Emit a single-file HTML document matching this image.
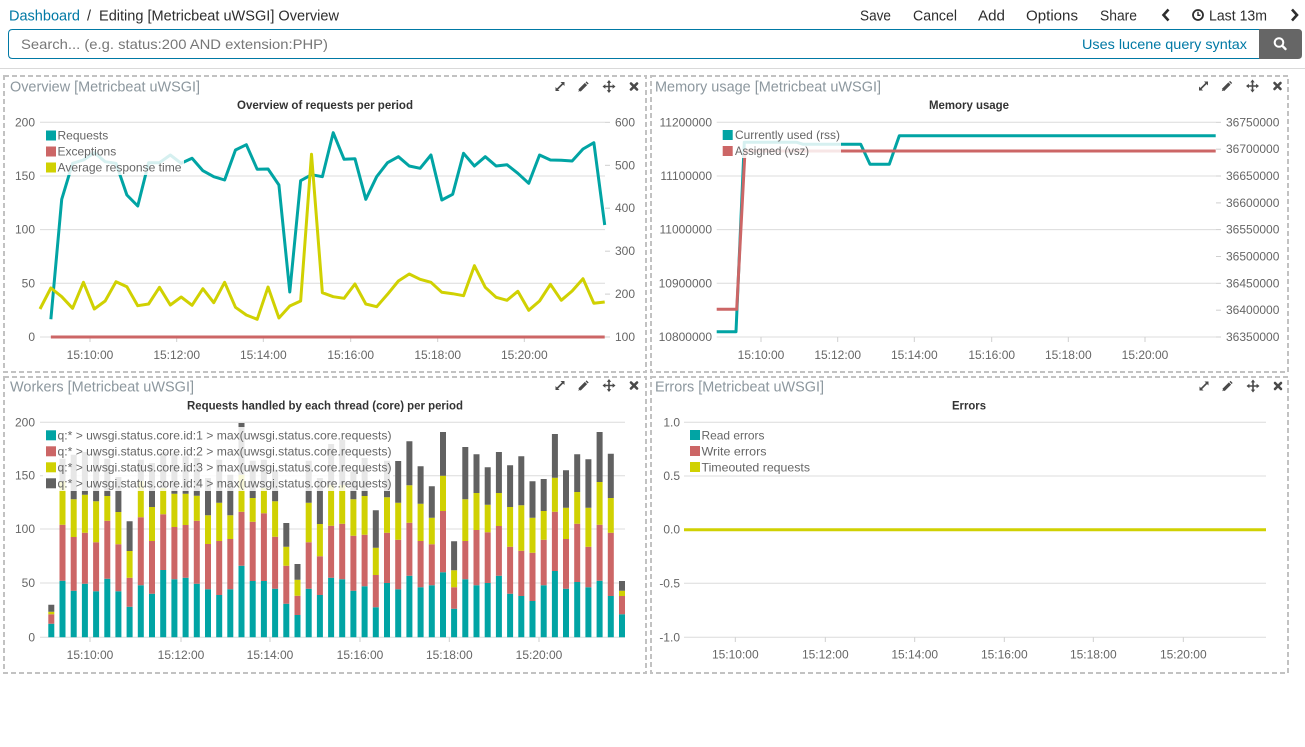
<!DOCTYPE html>
<html><head><meta charset="utf-8"><style>
html,body{margin:0;padding:0;background:#fff;}
svg{display:block;font-family:"Liberation Sans",Arial,sans-serif;}
.tk{font-size:12px;fill:#666;}
.lg{font-size:12px;fill:#666;}
.pt{font-size:14.5px;fill:#8c979e;}
.ct{font-size:12px;font-weight:bold;fill:#333;}
.nav{font-size:14.5px;fill:#2d2d2d;}
.grid line{stroke:#dcdcdc;stroke-width:1;}
.tick line{stroke:#cfcfcf;stroke-width:1;}
.ic{fill:none;stroke:#4a4a4a;stroke-linecap:round;}
</style></head><body>
<svg width="1305" height="747" viewBox="0 0 1305 747" xmlns="http://www.w3.org/2000/svg">
<defs>
<g id="icons">
  <!-- expand -->
  <path d="M-3.5 3.5 L3.5 -3.5" stroke="#4a4a4a" stroke-width="1.6"/>
  <path d="M0.5 -4.5 L4.5 -4.5 L4.5 -0.5 Z" fill="#4a4a4a"/>
  <path d="M-0.5 4.5 L-4.5 4.5 L-4.5 0.5 Z" fill="#4a4a4a"/>
  <!-- pencil -->
  <path d="M19.5 4 L26 -2.5" stroke="#4a4a4a" stroke-width="3.2"/>
  <path d="M18.2 5.3 L19.8 1.7 L21.8 3.7 Z" fill="#4a4a4a"/>
  <path d="M26.6 -3.1 L27.6 -4.1" stroke="#4a4a4a" stroke-width="3"/>
  <!-- move -->
  <path d="M43.5 0 H54.5 M49 -5.5 V5.5" stroke="#4a4a4a" stroke-width="1.6"/>
  <path d="M49 -6.5 L46.8 -3.6 H51.2 Z M49 6.5 L46.8 3.6 H51.2 Z M42.5 0 L45.4 -2.2 V2.2 Z M55.5 0 L52.6 -2.2 V2.2 Z" fill="#4a4a4a"/>
  <!-- close -->
  <path d="M71 -3 L77 3 M77 -3 L71 3" stroke="#4a4a4a" stroke-width="2.6" stroke-linecap="round"/>
</g>
</defs>

<!-- ===== top bar ===== -->
<text x="9" y="20.5" font-size="14.5" fill="#0079a5" textLength="71" lengthAdjust="spacingAndGlyphs">Dashboard</text>
<text x="87" y="20.5" font-size="14.5" fill="#2d2d2d">/</text>
<text x="99" y="20.5" font-size="14.5" fill="#2d2d2d" textLength="240" lengthAdjust="spacingAndGlyphs">Editing [Metricbeat uWSGI] Overview</text>
<text class="nav" x="860" y="20.5" textLength="31" lengthAdjust="spacingAndGlyphs">Save</text>
<text class="nav" x="913" y="20.5" textLength="44" lengthAdjust="spacingAndGlyphs">Cancel</text>
<text class="nav" x="978" y="20.5" textLength="27" lengthAdjust="spacingAndGlyphs">Add</text>
<text class="nav" x="1026" y="20.5" textLength="52" lengthAdjust="spacingAndGlyphs">Options</text>
<text class="nav" x="1100" y="20.5" textLength="37" lengthAdjust="spacingAndGlyphs">Share</text>
<path d="M1168.5 9.5 L1163.5 15 L1168.5 20.5" fill="none" stroke="#2d2d2d" stroke-width="2.6"/>
<circle cx="1198" cy="15" r="5" fill="none" stroke="#2d2d2d" stroke-width="1.8"/>
<path d="M1198 11.8 V15.3 H1200.5" fill="none" stroke="#2d2d2d" stroke-width="1.4"/>
<text class="nav" x="1209" y="20.5" textLength="58" lengthAdjust="spacingAndGlyphs">Last 13m</text>
<path d="M1292 9.5 L1297 15 L1292 20.5" fill="none" stroke="#2d2d2d" stroke-width="2.6"/>

<!-- search bar -->
<path d="M1259 29.5 H12.5 Q8.5 29.5 8.5 33.5 V54.5 Q8.5 58.5 12.5 58.5 H1259" fill="#fff" stroke="#0079a5" stroke-width="1"/>
<path d="M1259 29 H1298 Q1302 29 1302 33 V55 Q1302 59 1298 59 H1259 Z" fill="#666"/>
<circle cx="1279" cy="42.5" r="4.3" fill="none" stroke="#fff" stroke-width="2"/>
<path d="M1282.2 45.7 L1285.5 49" stroke="#fff" stroke-width="2.4" stroke-linecap="round"/>
<text x="21" y="49" font-size="14" fill="#777" textLength="307" lengthAdjust="spacingAndGlyphs">Search... (e.g. status:200 AND extension:PHP)</text>
<text x="1082" y="49" font-size="14" fill="#0079a5" textLength="165" lengthAdjust="spacingAndGlyphs">Uses lucene query syntax</text>
<line x1="0" y1="68.5" x2="1305" y2="68.5" stroke="#d9d9d9" stroke-width="1"/>

<!-- ===== panel borders ===== -->
<g fill="none" stroke="#c2c2c2" stroke-width="2" stroke-dasharray="5 3">
<rect x="4" y="76" width="642" height="296"/>
<rect x="651" y="76" width="637" height="296"/>
<rect x="4" y="377" width="642" height="296"/>
<rect x="651" y="377" width="637" height="296"/>
</g>

<!-- panel titles -->
<text class="pt" x="10" y="91.5" textLength="190" lengthAdjust="spacingAndGlyphs">Overview [Metricbeat uWSGI]</text>
<text class="pt" x="655" y="91.5" textLength="226" lengthAdjust="spacingAndGlyphs">Memory usage [Metricbeat uWSGI]</text>
<text class="pt" x="10" y="391.5" textLength="184" lengthAdjust="spacingAndGlyphs">Workers [Metricbeat uWSGI]</text>
<text class="pt" x="655" y="391.5" textLength="169" lengthAdjust="spacingAndGlyphs">Errors [Metricbeat uWSGI]</text>

<use href="#icons" x="560" y="86.5"/>
<use href="#icons" x="1203.5" y="86"/>
<use href="#icons" x="560" y="385.5"/>
<use href="#icons" x="1204" y="386"/>

<!-- chart titles -->
<text class="ct" x="237" y="109" textLength="176" lengthAdjust="spacingAndGlyphs">Overview of requests per period</text>
<text class="ct" x="929" y="109" textLength="80" lengthAdjust="spacingAndGlyphs">Memory usage</text>
<text class="ct" x="187" y="409.5" textLength="276" lengthAdjust="spacingAndGlyphs">Requests handled by each thread (core) per period</text>
<text class="ct" x="952" y="409.5" textLength="34" lengthAdjust="spacingAndGlyphs">Errors</text>

<!-- ===== Overview chart ===== -->
<g class="grid">
<line x1="40" y1="122.3" x2="605" y2="122.3"/>
<line x1="40" y1="176" x2="605" y2="176"/>
<line x1="40" y1="229.6" x2="605" y2="229.6"/>
<line x1="40" y1="283.3" x2="605" y2="283.3"/>
<line x1="40" y1="337" x2="605" y2="337"/>
</g>
<g class="tick">
<line x1="605" y1="122.3" x2="610" y2="122.3"/>
<line x1="605" y1="165.3" x2="610" y2="165.3"/>
<line x1="605" y1="208.2" x2="610" y2="208.2"/>
<line x1="605" y1="251.2" x2="610" y2="251.2"/>
<line x1="605" y1="294.1" x2="610" y2="294.1"/>
<line x1="605" y1="337" x2="610" y2="337"/>
<line x1="90" y1="337" x2="90" y2="342"/>
<line x1="176.7" y1="337" x2="176.7" y2="342"/>
<line x1="263.3" y1="337" x2="263.3" y2="342"/>
<line x1="350.7" y1="337" x2="350.7" y2="342"/>
<line x1="437.7" y1="337" x2="437.7" y2="342"/>
<line x1="524.3" y1="337" x2="524.3" y2="342"/>
</g>
<g class="tk" text-anchor="end">
<text x="35" y="126.3">200</text>
<text x="35" y="180">150</text>
<text x="35" y="233.6">100</text>
<text x="35" y="287.3">50</text>
<text x="35" y="341">0</text>
</g>
<g class="tk">
<text x="615" y="126.3">600</text>
<text x="615" y="169.3">500</text>
<text x="615" y="212.2">400</text>
<text x="615" y="255.2">300</text>
<text x="615" y="298.1">200</text>
<text x="615" y="341">100</text>
</g>
<g class="tk" text-anchor="middle">
<text x="90" y="359">15:10:00</text>
<text x="176.7" y="359">15:12:00</text>
<text x="263.3" y="359">15:14:00</text>
<text x="350.7" y="359">15:16:00</text>
<text x="437.7" y="359">15:18:00</text>
<text x="524.3" y="359">15:20:00</text>
</g>
<g fill="none" stroke-width="3" stroke-linejoin="round" stroke-linecap="butt">
<polyline stroke="#01A4A4" points="50.86,319.3 61.72,199.3 72.58,163.3 83.44,160 94.3,152.7 105.16,161.7 116.02,163.3 126.88,195 137.74,206 148.6,162.7 159.46,162.7 170.32,155 181.18,163.3 192.04,158.3 202.9,170.7 213.76,176.7 224.62,180 235.48,150 246.34,144.7 257.2,169.3 268.06,169 278.92,185 289.78,292 300.64,180.7 311.5,174.7 322.36,176.7 333.22,132.7 344.08,159.3 354.94,158.7 365.8,199.3 376.66,176.7 387.52,162.7 398.38,156.7 409.24,166 420.1,168.3 430.96,155 441.82,200 452.68,194.3 463.54,153.3 474.4,166 485.26,156.7 496.12,166 506.98,164.7 517.84,173.3 528.7,183.3 539.56,155 550.42,160 561.28,160.3 572.14,161 583,149 593.86,142.7 604.72,225"/>
<line stroke="#CC6666" x1="50.86" y1="337" x2="604.72" y2="337"/>
<polyline stroke="#D0D102" points="40,309 50.86,288 61.72,296.7 72.58,308.3 83.44,282.3 94.3,309 105.16,301 116.02,281.7 126.88,286.7 137.74,305.7 148.6,304 159.46,287.3 170.32,305 181.18,297 192.04,305.3 202.9,288.7 213.76,302.7 224.62,282.3 235.48,307.3 246.34,315 257.2,319.3 268.06,287 278.92,318 289.78,306 300.64,301 311.5,154.3 322.36,292.7 333.22,296.7 344.08,298.3 354.94,284 365.8,304 376.66,306.7 387.52,294.3 398.38,281 409.24,274 420.1,279.3 430.96,282.3 441.82,292.3 452.68,293.7 463.54,295.7 474.4,265.7 485.26,287.3 496.12,297.3 506.98,300.3 517.84,291.3 528.7,310.3 539.56,301 550.42,284.3 561.28,300.3 572.14,291 583,278.7 593.86,303.3 604.72,302"/>
</g>
<rect x="43" y="127" width="141" height="48" fill="#fff" fill-opacity="0.84"/>
<rect x="46" y="130.5" width="10" height="10" fill="#01A4A4"/>
<rect x="46" y="146.5" width="10" height="10" fill="#CC6666"/>
<rect x="46" y="162.5" width="10" height="10" fill="#D0D102"/>
<g class="lg">
<text x="57.5" y="139.5">Requests</text>
<text x="57.5" y="155.5">Exceptions</text>
<text x="57.5" y="171.5" textLength="124" lengthAdjust="spacingAndGlyphs">Average response time</text>
</g>

<!-- ===== Memory chart ===== -->
<g class="grid">
<line x1="716.7" y1="122.3" x2="1216" y2="122.3"/>
<line x1="716.7" y1="176" x2="1216" y2="176"/>
<line x1="716.7" y1="229.6" x2="1216" y2="229.6"/>
<line x1="716.7" y1="283.3" x2="1216" y2="283.3"/>
<line x1="716.7" y1="337" x2="1216" y2="337"/>
</g>
<g class="tick">
<line x1="1216" y1="122.3" x2="1221" y2="122.3"/>
<line x1="1216" y1="149.2" x2="1221" y2="149.2"/>
<line x1="1216" y1="176" x2="1221" y2="176"/>
<line x1="1216" y1="202.9" x2="1221" y2="202.9"/>
<line x1="1216" y1="229.6" x2="1221" y2="229.6"/>
<line x1="1216" y1="256.5" x2="1221" y2="256.5"/>
<line x1="1216" y1="283.3" x2="1221" y2="283.3"/>
<line x1="1216" y1="310.2" x2="1221" y2="310.2"/>
<line x1="1216" y1="337" x2="1221" y2="337"/>
<line x1="761" y1="337" x2="761" y2="342"/>
<line x1="837.7" y1="337" x2="837.7" y2="342"/>
<line x1="914.3" y1="337" x2="914.3" y2="342"/>
<line x1="991.7" y1="337" x2="991.7" y2="342"/>
<line x1="1068.3" y1="337" x2="1068.3" y2="342"/>
<line x1="1145" y1="337" x2="1145" y2="342"/>
</g>
<g class="tk" text-anchor="end">
<text x="712" y="126.3">11200000</text>
<text x="712" y="180">11100000</text>
<text x="712" y="233.6">11000000</text>
<text x="712" y="287.3">10900000</text>
<text x="712" y="341">10800000</text>
</g>
<g class="tk">
<text x="1226" y="126.3">36750000</text>
<text x="1226" y="153.2">36700000</text>
<text x="1226" y="180">36650000</text>
<text x="1226" y="206.9">36600000</text>
<text x="1226" y="233.6">36550000</text>
<text x="1226" y="260.5">36500000</text>
<text x="1226" y="287.3">36450000</text>
<text x="1226" y="314.2">36400000</text>
<text x="1226" y="341">36350000</text>
</g>
<g class="tk" text-anchor="middle">
<text x="761" y="359">15:10:00</text>
<text x="837.7" y="359">15:12:00</text>
<text x="914.3" y="359">15:14:00</text>
<text x="991.7" y="359">15:16:00</text>
<text x="1068.3" y="359">15:18:00</text>
<text x="1145" y="359">15:20:00</text>
</g>
<g fill="none" stroke-width="3" stroke-linejoin="round">
<polyline stroke="#01A4A4" points="716.7,331.7 736,331.7 744.3,142.3 796.7,142.3 803.3,144.3 860.7,144.3 870,164.3 889.3,164.3 899.3,135.7 1215.7,135.7"/>
<polyline stroke="#CC6666" points="716.7,309.3 736.7,309.3 745,151 1215.7,151"/>
</g>
<rect x="719" y="127" width="122" height="31" fill="#fff" fill-opacity="0.84"/>
<rect x="722.7" y="130" width="10" height="10" fill="#01A4A4"/>
<rect x="722.7" y="146" width="10" height="10" fill="#CC6666"/>
<g class="lg">
<text x="735" y="139" textLength="105" lengthAdjust="spacingAndGlyphs">Currently used (rss)</text>
<text x="735" y="155" textLength="74" lengthAdjust="spacingAndGlyphs">Assigned (vsz)</text>
</g>

<!-- ===== Workers chart ===== -->
<g class="grid">
<line x1="40" y1="422.3" x2="625" y2="422.3"/>
<line x1="40" y1="475.7" x2="625" y2="475.7"/>
<line x1="40" y1="529" x2="625" y2="529"/>
<line x1="40" y1="583" x2="625" y2="583"/>
<line x1="40" y1="637.3" x2="625" y2="637.3"/>
</g>
<g class="tick">
<line x1="90" y1="637.3" x2="90" y2="642"/>
<line x1="181" y1="637.3" x2="181" y2="642"/>
<line x1="270" y1="637.3" x2="270" y2="642"/>
<line x1="360" y1="637.3" x2="360" y2="642"/>
<line x1="449.3" y1="637.3" x2="449.3" y2="642"/>
<line x1="539" y1="637.3" x2="539" y2="642"/>
</g>
<g class="tk" text-anchor="end">
<text x="35" y="426.3">200</text>
<text x="35" y="479.7">150</text>
<text x="35" y="533">100</text>
<text x="35" y="587">50</text>
<text x="35" y="641.3">0</text>
</g>
<g class="tk" text-anchor="middle">
<text x="90" y="659">15:10:00</text>
<text x="181" y="659">15:12:00</text>
<text x="270" y="659">15:14:00</text>
<text x="360" y="659">15:16:00</text>
<text x="449.3" y="659">15:18:00</text>
<text x="539" y="659">15:20:00</text>
</g>
<path fill="#01A4A4" d="M48.3 623.7h6V637.3h-6zM59.5 580.7h6V637.3h-6zM70.7 590.7h6V637.3h-6zM81.9 583.7h6V637.3h-6zM93.1 591.3h6V637.3h-6zM104.3 578.7h6V637.3h-6zM115.4 591.3h6V637.3h-6zM126.6 606.7h6V637.3h-6zM137.8 585.3h6V637.3h-6zM149 593.7h6V637.3h-6zM160.2 570h6V637.3h-6zM171.4 579.3h6V637.3h-6zM182.6 577.7h6V637.3h-6zM193.8 583.7h6V637.3h-6zM205 589.3h6V637.3h-6zM216.2 595h6V637.3h-6zM227.3 589.3h6V637.3h-6zM238.5 565.7h6V637.3h-6zM249.7 581h6V637.3h-6zM260.9 581h6V637.3h-6zM272.1 588.7h6V637.3h-6zM283.3 603.7h6V637.3h-6zM294.5 615h6V637.3h-6zM305.7 588.7h6V637.3h-6zM316.9 595h6V637.3h-6zM328.1 577.7h6V637.3h-6zM339.2 579.3h6V637.3h-6zM350.4 590.7h6V637.3h-6zM361.6 586.3h6V637.3h-6zM372.8 607.3h6V637.3h-6zM384 583h6V637.3h-6zM395.2 589.3h6V637.3h-6zM406.4 575.7h6V637.3h-6zM417.6 587.3h6V637.3h-6zM428.8 585.3h6V637.3h-6zM440 572.3h6V637.3h-6zM451.1 608.7h6V637.3h-6zM462.3 579.3h6V637.3h-6zM473.5 585.3h6V637.3h-6zM484.7 583h6V637.3h-6zM495.9 575.7h6V637.3h-6zM507.1 593.7h6V637.3h-6zM518.3 596h6V637.3h-6zM529.5 601h6V637.3h-6zM540.7 585.3h6V637.3h-6zM551.9 571h6V637.3h-6zM563 588.7h6V637.3h-6zM574.2 582h6V637.3h-6zM585.4 587.3h6V637.3h-6zM596.6 580.7h6V637.3h-6zM607.8 596h6V637.3h-6zM619 614.3h6V637.3h-6z"/>
<path fill="#CC6666" d="M48.3 614.3h6V623.7h-6zM59.5 524.7h6V580.7h-6zM70.7 537h6V590.7h-6zM81.9 532.7h6V583.7h-6zM93.1 542.3h6V591.3h-6zM104.3 520.7h6V578.7h-6zM115.4 544.3h6V591.3h-6zM126.6 577.7h6V606.7h-6zM137.8 517.3h6V585.3h-6zM149 541h6V593.7h-6zM160.2 514.3h6V570h-6zM171.4 527h6V579.3h-6zM182.6 525h6V577.7h-6zM193.8 520.7h6V583.7h-6zM205 544h6V589.3h-6zM216.2 541h6V595h-6zM227.3 539h6V589.3h-6zM238.5 511.7h6V565.7h-6zM249.7 521.7h6V581h-6zM260.9 513.3h6V581h-6zM272.1 536.7h6V588.7h-6zM283.3 565.7h6V603.7h-6zM294.5 595.7h6V615h-6zM305.7 542.3h6V588.7h-6zM316.9 556.3h6V595h-6zM328.1 525.7h6V577.7h-6zM339.2 523.7h6V579.3h-6zM350.4 535.7h6V590.7h-6zM361.6 534.7h6V586.3h-6zM372.8 575h6V607.3h-6zM384 532.7h6V583h-6zM395.2 539.7h6V589.3h-6zM406.4 522.7h6V575.7h-6zM417.6 541h6V587.3h-6zM428.8 544.3h6V585.3h-6zM440 511h6V572.3h-6zM451.1 587.3h6V608.7h-6zM462.3 541h6V579.3h-6zM473.5 530h6V585.3h-6zM484.7 532.3h6V583h-6zM495.9 526h6V575.7h-6zM507.1 546.7h6V593.7h-6zM518.3 550.7h6V596h-6zM529.5 552.7h6V601h-6zM540.7 539.7h6V585.3h-6zM551.9 511.7h6V571h-6zM563 539h6V588.7h-6zM574.2 523.7h6V582h-6zM585.4 546.7h6V587.3h-6zM596.6 524.7h6V580.7h-6zM607.8 532.7h6V596h-6zM619 596h6V614.3h-6z"/>
<path fill="#D0D102" d="M48.3 611.7h6V614.3h-6zM59.5 481.3h6V524.7h-6zM70.7 499.3h6V537h-6zM81.9 494.7h6V532.7h-6zM93.1 501.3h6V542.3h-6zM104.3 496h6V520.7h-6zM115.4 512h6V544.3h-6zM126.6 551h6V577.7h-6zM137.8 481.3h6V517.3h-6zM149 507h6V541h-6zM160.2 488h6V514.3h-6zM171.4 493.7h6V527h-6zM182.6 493.7h6V525h-6zM193.8 495.7h6V520.7h-6zM205 515.3h6V544h-6zM216.2 502.7h6V541h-6zM227.3 515.3h6V539h-6zM238.5 474.7h6V511.7h-6zM249.7 498h6V521.7h-6zM260.9 488h6V513.3h-6zM272.1 501.3h6V536.7h-6zM283.3 546.7h6V565.7h-6zM294.5 579.7h6V595.7h-6zM305.7 502.7h6V542.3h-6zM316.9 524h6V556.3h-6zM328.1 484.7h6V525.7h-6zM339.2 484.7h6V523.7h-6zM350.4 499.3h6V535.7h-6zM361.6 496h6V534.7h-6zM372.8 547.7h6V575h-6zM384 497.3h6V532.7h-6zM395.2 502.7h6V539.7h-6zM406.4 485.3h6V522.7h-6zM417.6 503.7h6V541h-6zM428.8 517.7h6V544.3h-6zM440 475.7h6V511h-6zM451.1 570.3h6V587.3h-6zM462.3 499.3h6V541h-6zM473.5 493h6V530h-6zM484.7 504.7h6V532.3h-6zM495.9 493h6V526h-6zM507.1 507h6V546.7h-6zM518.3 505.3h6V550.7h-6zM529.5 517.7h6V552.7h-6zM540.7 511h6V539.7h-6zM551.9 477.7h6V511.7h-6zM563 507.7h6V539h-6zM574.2 492h6V523.7h-6zM585.4 507.7h6V546.7h-6zM596.6 482h6V524.7h-6zM607.8 498h6V532.7h-6zM619 590.7h6V596h-6z"/>
<path fill="#616161" d="M48.3 604.7h6V611.7h-6zM59.5 458.7h6V481.3h-6zM70.7 454.7h6V499.3h-6zM81.9 452h6V494.7h-6zM93.1 453.3h6V501.3h-6zM104.3 458.7h6V496h-6zM115.4 477h6V512h-6zM126.6 521.3h6V551h-6zM137.8 459.7h6V481.3h-6zM149 463h6V507h-6zM160.2 452h6V488h-6zM171.4 453.3h6V493.7h-6zM182.6 456.3h6V493.7h-6zM193.8 458h6V495.7h-6zM205 478h6V515.3h-6zM216.2 459.7h6V502.7h-6zM227.3 474.7h6V515.3h-6zM238.5 423h6V474.7h-6zM249.7 460.7h6V498h-6zM260.9 459.7h6V488h-6zM272.1 469.7h6V501.3h-6zM283.3 523h6V546.7h-6zM294.5 564h6V579.7h-6zM305.7 460.7h6V502.7h-6zM316.9 478h6V524h-6zM328.1 444h6V484.7h-6zM339.2 439.7h6V484.7h-6zM350.4 471.3h6V499.3h-6zM361.6 458h6V496h-6zM372.8 510.3h6V547.7h-6zM384 460.7h6V497.3h-6zM395.2 461h6V502.7h-6zM406.4 441.3h6V485.3h-6zM417.6 466.3h6V503.7h-6zM428.8 486.3h6V517.7h-6zM440 432h6V475.7h-6zM451.1 541.3h6V570.3h-6zM462.3 447h6V499.3h-6zM473.5 454.3h6V493h-6zM484.7 467.3h6V504.7h-6zM495.9 452h6V493h-6zM507.1 465.3h6V507h-6zM518.3 456.3h6V505.3h-6zM529.5 481.3h6V517.7h-6zM540.7 479h6V511h-6zM551.9 434h6V477.7h-6zM563 470.3h6V507.7h-6zM574.2 454.3h6V492h-6zM585.4 459.3h6V507.7h-6zM596.6 432h6V482h-6zM607.8 453.7h6V498h-6zM619 581h6V590.7h-6z"/>
<rect x="43" y="427" width="350" height="64" fill="#fff" fill-opacity="0.85"/>
<rect x="46" y="430.3" width="10" height="10" fill="#01A4A4"/>
<rect x="46" y="446.3" width="10" height="10" fill="#CC6666"/>
<rect x="46" y="462.3" width="10" height="10" fill="#D0D102"/>
<rect x="46" y="478.3" width="10" height="10" fill="#616161"/>
<g class="lg">
<text x="57.5" y="439.5" textLength="334" lengthAdjust="spacingAndGlyphs">q:* &gt; uwsgi.status.core.id:1 &gt; max(uwsgi.status.core.requests)</text>
<text x="57.5" y="455.5" textLength="334" lengthAdjust="spacingAndGlyphs">q:* &gt; uwsgi.status.core.id:2 &gt; max(uwsgi.status.core.requests)</text>
<text x="57.5" y="471.5" textLength="334" lengthAdjust="spacingAndGlyphs">q:* &gt; uwsgi.status.core.id:3 &gt; max(uwsgi.status.core.requests)</text>
<text x="57.5" y="487.5" textLength="334" lengthAdjust="spacingAndGlyphs">q:* &gt; uwsgi.status.core.id:4 &gt; max(uwsgi.status.core.requests)</text>
</g>

<!-- ===== Errors chart ===== -->
<g class="grid">
<line x1="684" y1="422.3" x2="1266" y2="422.3"/>
<line x1="684" y1="476" x2="1266" y2="476"/>
<line x1="684" y1="583.3" x2="1266" y2="583.3"/>
<line x1="684" y1="637.3" x2="1266" y2="637.3"/>
</g>
<g class="tick">
<line x1="735.3" y1="637.3" x2="735.3" y2="642"/>
<line x1="825.3" y1="637.3" x2="825.3" y2="642"/>
<line x1="914.7" y1="637.3" x2="914.7" y2="642"/>
<line x1="1004.3" y1="637.3" x2="1004.3" y2="642"/>
<line x1="1093.3" y1="637.3" x2="1093.3" y2="642"/>
<line x1="1183.3" y1="637.3" x2="1183.3" y2="642"/>
</g>
<g class="tk" text-anchor="end">
<text x="680" y="426.3">1.0</text>
<text x="680" y="480">0.5</text>
<text x="680" y="533.7">0.0</text>
<text x="680" y="587.3">-0.5</text>
<text x="680" y="641.3">-1.0</text>
</g>
<g class="tk" text-anchor="middle">
<text x="735.3" y="658.5">15:10:00</text>
<text x="825.3" y="658.5">15:12:00</text>
<text x="914.7" y="658.5">15:14:00</text>
<text x="1004.3" y="658.5">15:16:00</text>
<text x="1093.3" y="658.5">15:18:00</text>
<text x="1183.3" y="658.5">15:20:00</text>
</g>
<line x1="684" y1="529.7" x2="1266" y2="529.7" stroke="#D0D102" stroke-width="3"/>
<rect x="690" y="430" width="10" height="10" fill="#01A4A4"/>
<rect x="690" y="446" width="10" height="10" fill="#CC6666"/>
<rect x="690" y="462" width="10" height="10" fill="#D0D102"/>
<g class="lg">
<text x="701.5" y="439.3" textLength="63" lengthAdjust="spacingAndGlyphs">Read errors</text>
<text x="701.5" y="455.3" textLength="65" lengthAdjust="spacingAndGlyphs">Write errors</text>
<text x="701.5" y="471.3" textLength="108.5" lengthAdjust="spacingAndGlyphs">Timeouted requests</text>
</g>
</svg>
</body></html>
